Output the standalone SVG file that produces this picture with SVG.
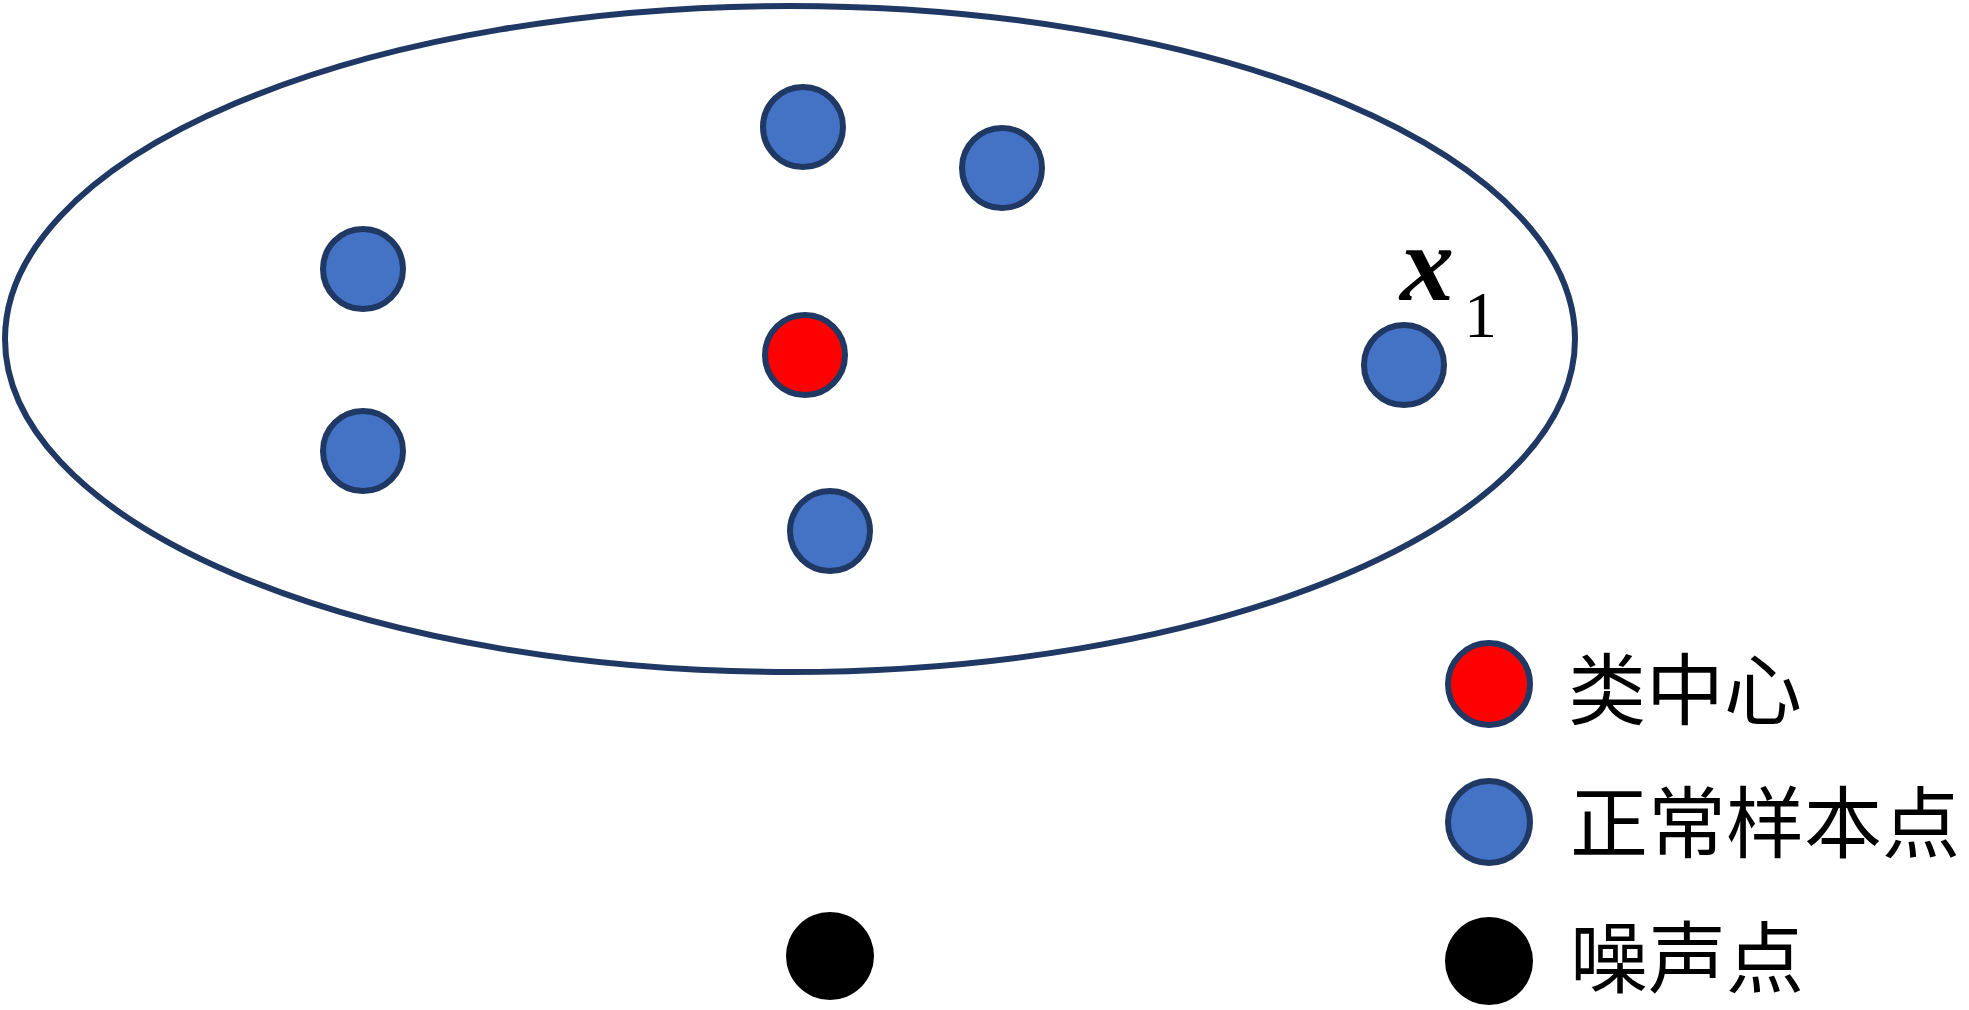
<svg xmlns="http://www.w3.org/2000/svg" width="1969" height="1010" viewBox="0 0 1969 1010">
<style>
.pt{stroke:#1F3864;stroke-width:6}
.blue{fill:#4472C4}
.red{fill:#FF0000}
.noise{fill:#000000}
.lg{font-family:"Noto Sans CJK SC","Noto Sans",sans-serif;font-size:78px;fill:#000}
.math{font-family:"Liberation Serif",serif;fill:#000}
</style>
<rect width="1969" height="1010" fill="#fff"/>
<g id="cluster">
<ellipse cx="790" cy="339" rx="785" ry="333" fill="none" stroke="#1F3864" stroke-width="6"/>
</g>
<g id="connectors"></g>
<g id="n1"><circle class="pt blue" cx="803" cy="127" r="40"/></g>
<g id="n2"><circle class="pt blue" cx="1002" cy="168" r="40"/></g>
<g id="n3"><circle class="pt blue" cx="363" cy="269" r="40"/></g>
<g id="center"><circle class="pt red" cx="805" cy="355" r="40"/></g>
<g id="n4"><circle class="pt blue" cx="363" cy="451" r="40"/></g>
<g id="n5"><circle class="pt blue" cx="830" cy="531" r="40"/></g>
<g id="x1"><circle class="pt blue" cx="1404" cy="365" r="40"/>
<text class="math" x="1400" y="300" font-size="108" font-weight="bold" font-style="italic">x</text>
<text class="math" x="1464" y="337" font-size="66">1</text>
</g>
<g id="noise"><circle class="noise" cx="830" cy="956" r="44"/></g>
<g id="legend">
<circle class="pt red" cx="1489" cy="684" r="41"/>
<text class="lg" x="1568" y="719">类中心</text>
<circle class="pt blue" cx="1489" cy="822" r="41"/>
<text class="lg" x="1570" y="852">正常样本点</text>
<circle class="noise" cx="1489" cy="961" r="44"/>
<text class="lg" x="1570" y="987">噪声点</text>
</g>
</svg>
